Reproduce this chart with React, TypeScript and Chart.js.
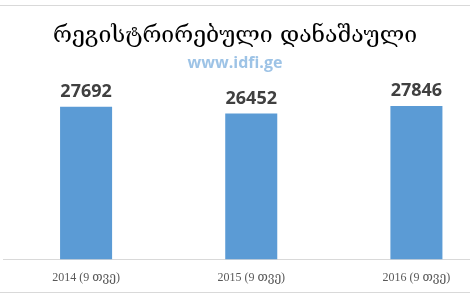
import React, { useEffect, useRef } from "react";
import { Chart, registerables } from "chart.js";

Chart.register(...registerables);

const TITLE = "რეგისტრირებული დანაშაული";
const SUBTITLE = "www.idfi.ge";
const categories = ["2014 (9 თვე)", "2015 (9 თვე)", "2016 (9 თვე)"];
const crimes = [27692, 26452, 27846];

const overlay = {
  id: "overlay",
  afterDraw(chart: any) {
    const ctx = chart.ctx;
    ctx.save();
    // frame lines
    ctx.strokeStyle = "#d9d9d9";
    ctx.lineWidth = 1;
    ctx.beginPath();
    ctx.moveTo(0, 5.5);
    ctx.lineTo(chart.width, 5.5);
    ctx.moveTo(0, 292.5);
    ctx.lineTo(chart.width, 292.5);
    ctx.stroke();
    // title
    ctx.textAlign = "center";
    ctx.textBaseline = "alphabetic";
    ctx.fillStyle = "#000000";
    ctx.font = "23px 'DejaVu Serif'";
    ctx.fillText(TITLE, 235, 42);
    ctx.fillStyle = "#9dc3e6";
    ctx.font = "bold 16px 'Open Sans'";
    ctx.fillText(SUBTITLE, 235, 68);
    // data labels
    const meta = chart.getDatasetMeta(0);
    ctx.fillStyle = "#404040";
    ctx.font = "bold 18px 'Open Sans'";
    meta.data.forEach((bar: any, i: number) => {
      ctx.fillText(String(crimes[i]), bar.x, bar.y - 10);
    });
    ctx.restore();
  },
};

export default function App() {
  const ref = useRef<HTMLCanvasElement | null>(null);
  useEffect(() => {
    if (!ref.current) return;
    const chart = new Chart(ref.current, {
      type: "bar",
      data: {
        labels: categories,
        datasets: [
          {
            data: crimes,
            backgroundColor: "#5b9bd5",
            borderWidth: 0,
            barPercentage: 1,
            categoryPercentage: 0.315,
          },
        ],
      },
      options: {
        responsive: false,
        animation: false,
        layout: { padding: { left: 3.5, right: 0, top: 94, bottom: 4 } },
        plugins: {
          legend: { display: false },
          title: { display: false },
          tooltip: { enabled: false },
        },
        scales: {
          x: {
            grid: { display: false, drawTicks: false },
            border: { display: true, color: "#d9d9d9", width: 1 },
            ticks: {
              color: "#595959",
              padding: 11,
              font: { family: "'Liberation Serif', 'DejaVu Serif'", size: 12 },
            },
          },
          y: {
            display: false,
            min: 0,
            max: 30000,
          },
        },
      },
      plugins: [overlay],
    });
    return () => chart.destroy();
  }, []);
  return (
    <div
      style={{
        position: "fixed",
        left: 0,
        top: 0,
        width: 470,
        height: 300,
        overflow: "hidden",
        background: "#ffffff",
      }}
    >
      <canvas ref={ref} width={499} height={300} />
    </div>
  );
}
